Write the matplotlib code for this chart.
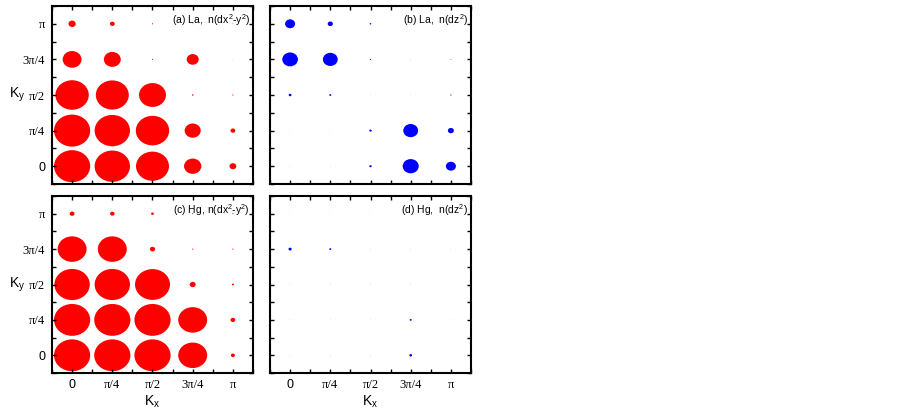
import matplotlib.pyplot as plt
from matplotlib.patches import Ellipse
from matplotlib.ticker import MultipleLocator

# k-point labels (same for kx and ky)
k_labels = ['0', 'π/4', 'π/2', '3π/4', 'π']

# marker diameter (in k-step units), rows ky = 0 .. pi, columns kx = 0 .. pi
la_dx2y2 = [[0.90, 0.88, 0.82, 0.43, 0.17],
            [0.90, 0.88, 0.83, 0.40, 0.12],
            [0.83, 0.82, 0.67, 0.04, 0.03],
            [0.47, 0.42, 0.03, 0.30, 0.01],
            [0.18, 0.12, 0.03, 0.02, 0.02]]
la_dz2 = [[0.01, 0.01, 0.06, 0.40, 0.25],
          [0.01, 0.01, 0.06, 0.37, 0.15],
          [0.07, 0.05, 0.01, 0.01, 0.03],
          [0.39, 0.37, 0.03, 0.01, 0.02],
          [0.25, 0.13, 0.04, 0.01, 0.01]]
hg_dx2y2 = [[0.90, 0.90, 0.90, 0.72, 0.10],
            [0.90, 0.90, 0.90, 0.72, 0.12],
            [0.88, 0.88, 0.87, 0.15, 0.05],
            [0.72, 0.72, 0.13, 0.03, 0.03],
            [0.12, 0.11, 0.07, 0.03, 0.03]]
hg_dz2 = [[0.01, 0.01, 0.01, 0.07, 0.01],
          [0.01, 0.01, 0.01, 0.05, 0.01],
          [0.01, 0.01, 0.01, 0.01, 0.01],
          [0.08, 0.05, 0.01, 0.01, 0.01],
          [0.01, 0.01, 0.01, 0.01, 0.01]]

W, H = 903, 411
fig = plt.figure(figsize=(W / 100, H / 100), dpi=100)


def px_axes(x0, y0, x1, y1):
    return fig.add_axes([x0 / W, 1 - y1 / H, (x1 - x0) / W, (y1 - y0) / H])


sq = r'$^\mathregular{2}$'
panels = [
    (px_axes(52, 6, 253, 184), la_dx2y2, 'red', '(a) La,  n(dx' + sq + '-y' + sq + ')', True, False),
    (px_axes(270, 6, 471, 184), la_dz2, 'blue', '(b) La,  n(dz' + sq + ')', False, False),
    (px_axes(52, 196, 253, 373), hg_dx2y2, 'red', '(c) Hg, n(dx' + sq + '-y' + sq + ')', True, True),
    (px_axes(270, 196, 471, 373), hg_dz2, 'blue', '(d) Hg,  n(dz' + sq + ')', False, True),
]

for ax, vals, col, title, ylab, xlab in panels:
    for iy, row in enumerate(vals):
        for ix, d in enumerate(row):
            ax.add_patch(Ellipse((ix, iy), d, d, facecolor=col, edgecolor='none'))
    ax.set_xlim(-0.5, 4.5)
    ax.set_ylim(-0.5, 4.5)
    ax.xaxis.set_major_locator(MultipleLocator(1))
    ax.yaxis.set_major_locator(MultipleLocator(1))
    ax.xaxis.set_minor_locator(MultipleLocator(0.5))
    ax.yaxis.set_minor_locator(MultipleLocator(0.5))
    ax.tick_params(which='both', direction='in', top=True, right=True,
                   length=3, width=1, labelsize=9)
    for s in ax.spines.values():
        s.set_linewidth(1.5)
    ax.text(0.985, 0.965, title, transform=ax.transAxes, ha='right', va='top',
            fontsize=7.5, family='Liberation Sans')

    if xlab:
        ax.set_xticks(range(5))
        ax.set_xticklabels(k_labels)
        ax.tick_params(axis='x', pad=4)
        ax.text(0.5, -0.16, r'K$_\mathregular{x}$', transform=ax.transAxes,
                ha='center', va='center', fontsize=10, family='Liberation Sans')
    else:
        ax.set_xticklabels([])
    if ylab:
        ax.set_yticks(range(5))
        ax.set_yticklabels(k_labels)
        ax.tick_params(axis='y', pad=5)
        ax.text(-0.215, 2, r'K$_\mathregular{y}$', transform=ax.get_yaxis_transform(),
                ha='left', va='center', fontsize=10, family='Liberation Sans')
    else:
        ax.set_yticklabels([])

    for lbl in ax.get_xticklabels() + ax.get_yticklabels():
        if lbl.get_text() == '0':
            lbl.set_fontfamily('Liberation Sans')
        else:
            lbl.set_fontfamily('Liberation Serif')

fig.savefig('out.png', dpi=100)
